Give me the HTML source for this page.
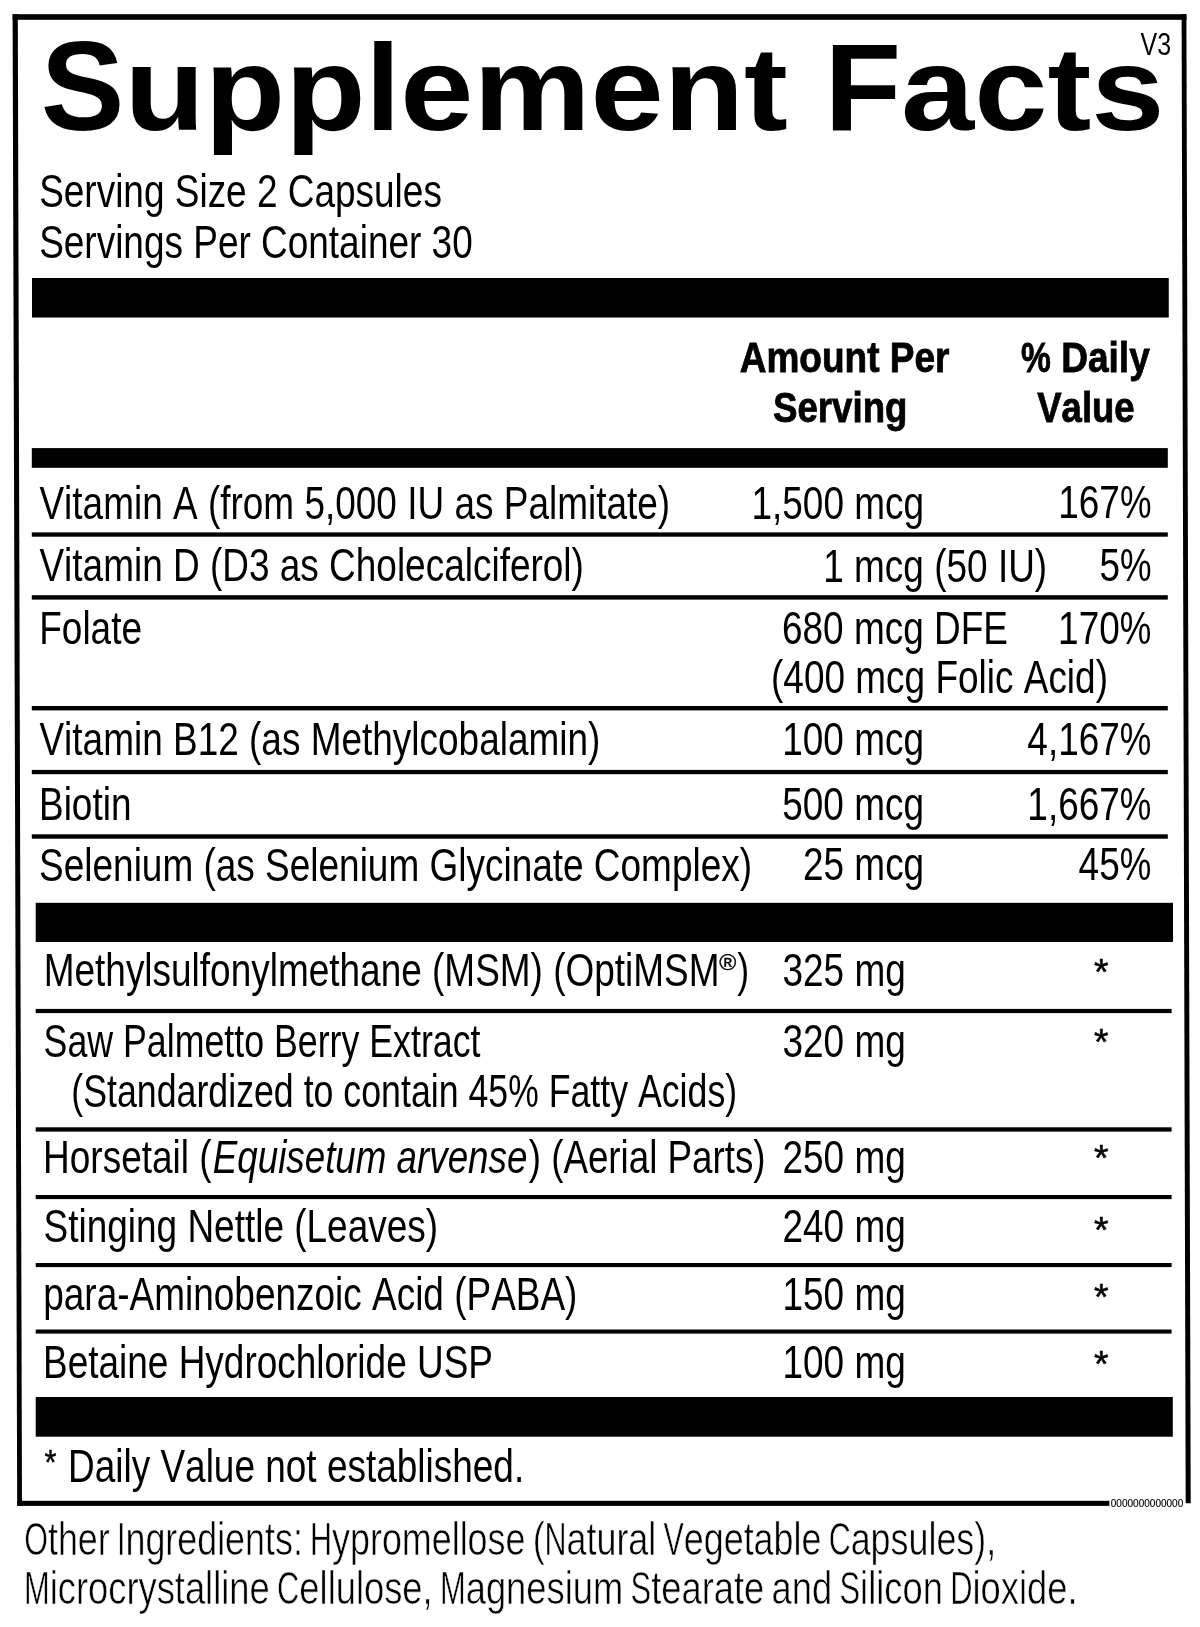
<!DOCTYPE html>
<html lang="en"><head><meta charset="utf-8"><title>Supplement Facts</title>
<style>
html,body{margin:0;padding:0;background:#fff}
body{width:1200px;height:1627px;overflow:hidden}
svg{display:block;will-change:transform;filter:grayscale(1)}
text{font-family:"Liberation Sans",sans-serif;fill:#000;white-space:pre;font-kerning:none}
</style></head><body>
<svg width="1200" height="1627" viewBox="0 0 1200 1627">
<rect width="1200" height="1627" fill="#fff"/>
<g fill="#000">
<!-- outer border -->
<rect x="12.6" y="14.2" width="1173.8" height="5.6"/>
<polygon points="12.6,14.2 17.8,14.2 22.0,1505.9 17.2,1505.9"/>
<polygon points="1181.6,14.2 1186.4,14.2 1190.7,1503.2 1185.7,1503.2"/>
<rect x="17.2" y="1500.8" width="1092.2" height="5.1"/>
<!-- thick bars -->
<rect x="32" y="278" width="1136.75" height="39.5"/>
<rect x="31.8" y="448.1" width="1136" height="19.7"/>
<rect x="35.7" y="902.8" width="1137.3" height="39.2"/>
<rect x="35.7" y="1397" width="1137.1" height="39.7"/>
<!-- thin rules, upper section -->
<rect x="31.8" y="532.4" width="1136" height="4.3"/>
<rect x="31.8" y="595.2" width="1136" height="4.4"/>
<rect x="31.8" y="706" width="1136" height="4.4"/>
<rect x="31.8" y="769.9" width="1136" height="4.3"/>
<rect x="31.8" y="834.3" width="1136" height="4.4"/>
<!-- thin rules, lower section -->
<rect x="35.7" y="1008.9" width="1135.9" height="4.2"/>
<rect x="35.7" y="1127.3" width="1135.9" height="4.3"/>
<rect x="35.7" y="1195" width="1135.9" height="4.1"/>
<rect x="35.7" y="1263" width="1135.9" height="4.1"/>
<rect x="35.7" y="1329.5" width="1135.9" height="4.1"/>
</g>

<text transform="matrix(0.78270 0 0 1 1140.55 55.00)" font-size="32">V3</text>
<text transform="matrix(1.10561 0 0 1 40.75 130.00)" font-size="119.0" font-weight="700"><tspan font-size="126.5" textLength="75.68" lengthAdjust="spacingAndGlyphs">S</tspan>upp<tspan font-size="122.5" textLength="31.53" lengthAdjust="spacingAndGlyphs">l</tspan>ement <tspan font-size="125" textLength="69.31" lengthAdjust="spacingAndGlyphs">F</tspan>acts</text>
<text transform="matrix(0.80391 0 0 1 39.15 206.50)" font-size="46">Serving Size 2 Capsules</text>
<text transform="matrix(0.80391 0 0 1 39.15 257.70)" font-size="46">Servings Per Container 30</text>
<text transform="matrix(0.85306 0 0 1 739.70 371.70)" font-size="43.4" font-weight="700" stroke="#000" stroke-width="0.8">Amount Per</text>
<text transform="matrix(0.85489 0 0 1 1021.00 371.70)" font-size="43.4" font-weight="700" stroke="#000" stroke-width="0.8"><tspan textLength="34.92" lengthAdjust="spacingAndGlyphs">%</tspan> Daily</text>
<text transform="matrix(0.84466 0 0 1 773.00 422.30)" font-size="43.4" font-weight="700" stroke="#000" stroke-width="0.8">Serving</text>
<text transform="matrix(0.84130 0 0 1 1037.25 422.30)" font-size="43.4" font-weight="700" stroke="#000" stroke-width="0.8">Value</text>
<text transform="matrix(0.80391 0 0 1 39.45 519.10)" font-size="46">Vitamin A (from 5,000 IU as Palmitate)</text>
<text transform="matrix(0.80391 0 0 1 751.45 519.00)" font-size="46">1,500 mcg</text>
<text transform="matrix(0.80391 0 0 1 1058.20 517.90)" font-size="46">167<tspan textLength="39.27" lengthAdjust="spacingAndGlyphs">%</tspan></text>
<text transform="matrix(0.80391 0 0 1 39.45 581.40)" font-size="46">Vitamin D (D3 as Cholecalciferol)</text>
<text transform="matrix(0.80391 0 0 1 823.25 581.50)" font-size="46">1 mcg (50 IU)</text>
<text transform="matrix(0.80391 0 0 1 1099.45 581.40)" font-size="46">5<tspan textLength="39.27" lengthAdjust="spacingAndGlyphs">%</tspan></text>
<text transform="matrix(0.80391 0 0 1 39.25 644.30)" font-size="46">Folate</text>
<text transform="matrix(0.80391 0 0 1 782.00 644.00)" font-size="46">680 mcg DFE</text>
<text transform="matrix(0.80391 0 0 1 1058.10 643.80)" font-size="46">170<tspan textLength="39.27" lengthAdjust="spacingAndGlyphs">%</tspan></text>
<text transform="matrix(0.80391 0 0 1 771.05 692.50)" font-size="46">(400 mcg Folic Acid)</text>
<text transform="matrix(0.80391 0 0 1 39.45 755.30)" font-size="46">Vitamin B12 (as Methylcobalamin)</text>
<text transform="matrix(0.80391 0 0 1 782.20 755.30)" font-size="46">100 mcg</text>
<text transform="matrix(0.80391 0 0 1 1027.35 755.00)" font-size="46">4,167<tspan textLength="39.27" lengthAdjust="spacingAndGlyphs">%</tspan></text>
<text transform="matrix(0.80391 0 0 1 39.00 820.20)" font-size="46">Biotin</text>
<text transform="matrix(0.80391 0 0 1 782.20 820.20)" font-size="46">500 mcg</text>
<text transform="matrix(0.80391 0 0 1 1027.35 820.00)" font-size="46">1,667<tspan textLength="39.27" lengthAdjust="spacingAndGlyphs">%</tspan></text>
<text transform="matrix(0.80391 0 0 1 39.10 880.50)" font-size="46">Selenium (as Selenium Glycinate Complex)</text>
<text transform="matrix(0.80391 0 0 1 802.95 880.30)" font-size="46">25 mcg</text>
<text transform="matrix(0.80391 0 0 1 1078.60 880.00)" font-size="46">45<tspan textLength="39.27" lengthAdjust="spacingAndGlyphs">%</tspan></text>
<text transform="matrix(0.80391 0 0 1 43.70 986.30)" font-size="46">Methylsulfonylmethane (MSM) (OptiMSM</text>
<text transform="matrix(1.03006 0 0 1 719.15 970.20)" font-size="22.5" stroke="#000" stroke-width="0.4">®</text>
<text transform="matrix(0.77554 0 0 1 737.35 986.30)" font-size="46">)</text>
<text transform="matrix(0.80391 0 0 1 782.50 986.30)" font-size="46">325 mg</text>
<text transform="matrix(1.03823 0 0 1 1093.95 984.82)" font-size="36" stroke="#000" stroke-width="0.5">*</text>
<text transform="matrix(0.77695 0 0 1 43.55 1056.90)" font-size="46">Saw Palmetto Berry Extract</text>
<text transform="matrix(0.80391 0 0 1 782.50 1056.90)" font-size="46">320 mg</text>
<text transform="matrix(1.03823 0 0 1 1093.95 1055.42)" font-size="36" stroke="#000" stroke-width="0.5">*</text>
<text transform="matrix(0.77675 0 0 1 71.35 1107.40)" font-size="46">(Standardized to contain 45<tspan textLength="39.27" lengthAdjust="spacingAndGlyphs">%</tspan> Fatty Acids)</text>
<text transform="matrix(0.80391 0 0 1 43.10 1173.00)" font-size="46">Horsetail (</text>
<text transform="matrix(0.79936 0 0 1 212.75 1173.00)" font-size="46" font-style="italic">Equisetum arvense</text>
<text transform="matrix(0.79881 0 0 1 528.75 1173.00)" font-size="46">) (Aerial Parts)</text>
<text transform="matrix(0.80391 0 0 1 782.50 1173.00)" font-size="46">250 mg</text>
<text transform="matrix(1.03823 0 0 1 1093.95 1171.12)" font-size="36" stroke="#000" stroke-width="0.5">*</text>
<text transform="matrix(0.80391 0 0 1 43.55 1242.30)" font-size="46">Stinging Nettle (Leaves)</text>
<text transform="matrix(0.80391 0 0 1 782.50 1242.30)" font-size="46">240 mg</text>
<text transform="matrix(1.03823 0 0 1 1093.95 1243.02)" font-size="36" stroke="#000" stroke-width="0.5">*</text>
<text transform="matrix(0.80391 0 0 1 43.25 1310.30)" font-size="46">para-Aminobenzoic Acid (PABA)</text>
<text transform="matrix(0.80391 0 0 1 782.50 1310.30)" font-size="46">150 mg</text>
<text transform="matrix(1.03823 0 0 1 1093.95 1310.42)" font-size="36" stroke="#000" stroke-width="0.5">*</text>
<text transform="matrix(0.80391 0 0 1 43.00 1378.00)" font-size="46">Betaine Hydrochloride USP</text>
<text transform="matrix(0.80391 0 0 1 782.50 1378.00)" font-size="46">100 mg</text>
<text transform="matrix(1.03823 0 0 1 1093.95 1376.52)" font-size="36" stroke="#000" stroke-width="0.5">*</text>
<text transform="matrix(0.85221 0 0 1 44.55 1474.42)" font-size="36" stroke="#000" stroke-width="0.5">*</text>
<text transform="matrix(0.80391 0 0 1 68.00 1481.70)" font-size="46">Daily Value not established.</text>
<text transform="matrix(0.89650 0 0 1 1110.75 1507.00)" font-size="11.2" stroke="#000" stroke-width="0.15">0000000000000</text>
<text transform="matrix(0.78307 0 0 1 24.25 1555.00)" font-size="45.8" stroke="#fff" stroke-width="0.6"><tspan style="word-spacing:-3.5px"><tspan textLength="30.28" lengthAdjust="spacingAndGlyphs">O</tspan>ther <tspan textLength="10.82" lengthAdjust="spacingAndGlyphs">I</tspan>ngredients: <tspan textLength="28.11" lengthAdjust="spacingAndGlyphs">H</tspan>ypromellose (<tspan textLength="28.11" lengthAdjust="spacingAndGlyphs">N</tspan>atural <tspan textLength="25.97" lengthAdjust="spacingAndGlyphs">V</tspan>egetable <tspan textLength="28.11" lengthAdjust="spacingAndGlyphs">C</tspan>apsules),</tspan></text>
<text transform="matrix(0.79348 0 0 1 23.95 1604.30)" font-size="45.8" stroke="#fff" stroke-width="0.6"><tspan style="word-spacing:-3.5px"><tspan textLength="32.43" lengthAdjust="spacingAndGlyphs">M</tspan>icrocrystalline <tspan textLength="28.11" lengthAdjust="spacingAndGlyphs">C</tspan>ellulose, <tspan textLength="32.43" lengthAdjust="spacingAndGlyphs">M</tspan>agnesium <tspan textLength="25.97" lengthAdjust="spacingAndGlyphs">S</tspan>tearate and <tspan textLength="25.97" lengthAdjust="spacingAndGlyphs">S</tspan>ilicon <tspan textLength="28.11" lengthAdjust="spacingAndGlyphs">D</tspan>ioxide.</tspan></text>
</svg>
</body></html>
